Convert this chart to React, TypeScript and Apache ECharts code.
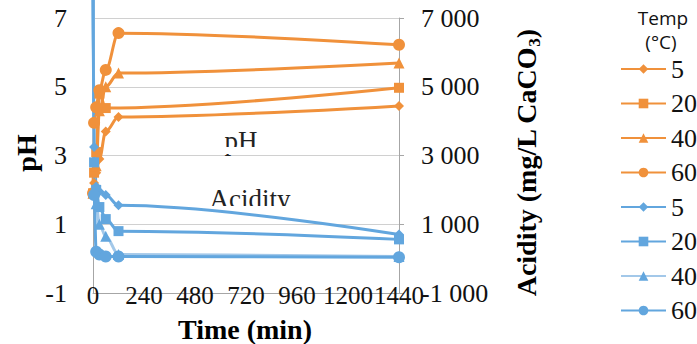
import React, { useEffect, useRef } from 'react';
import * as echarts from 'echarts';

const temps = ['5', '20', '40', '60'];
const xTicks = [0, 240, 480, 720, 960, 1200, 1440];

// pH (left axis) — [time (min), pH]
const ph5 = [[0, 1.9], [5, 2.2], [15, 2.5], [30, 2.9], [60, 3.7], [120, 4.12], [1440, 4.44]];
const ph20 = [[0, 1.9], [5, 2.5], [15, 3.1], [30, 4.8], [60, 4.38], [1440, 4.97]];
const ph40 = [[0, 1.9], [5, 2.0], [15, 2.7], [30, 4.3], [60, 5.0], [120, 5.4], [1440, 5.69]];
const ph60 = [[0, 1.9], [5, 3.95], [15, 4.4], [30, 4.9], [60, 5.49], [120, 6.56], [1440, 6.22]];

// Acidity (right axis) — [time (min), mg/L CaCO3]
const ac5 = [[0, 9000], [5, 3250], [15, 2100], [30, 1950], [60, 1850], [120, 1550], [1440, 700]];
const ac20 = [[0, 9000], [5, 2800], [15, 2000], [30, 1500], [60, 1150], [120, 800], [1440, 560]];
const ac40 = [[0, 9000], [5, 2000], [15, 1600], [30, 1000], [60, 650], [120, 120], [1440, 60]];
const ac60 = [[0, 9000], [5, 1850], [15, 200], [30, 120], [60, 60], [120, 60], [1440, 40]];

const phSeries = [ph5, ph20, ph40, ph60];
const acSeries = [ac5, ac20, ac40, ac60];
const symbols = ['diamond', 'rect', 'triangle', 'circle'];
const symbolSizes = [10, 10, 11, 12];

const ORANGE = '#F0913B';
const BLUE = '#62A6DE';
const LIGHT_BLUE = '#A3C8E9';
const SERIF = 'Liberation Serif';

const fmtThousands = (v: number) => {
  const s = Math.abs(v);
  const str = s >= 1000 ? Math.floor(s / 1000) + ' ' + String(s % 1000).padStart(3, '0') : String(s);
  return (v < 0 ? '-' : '') + str;
};

export default function App() {
  const ref = useRef<HTMLDivElement>(null);
  useEffect(() => {
    const chart = echarts.init(ref.current!, null, { renderer: 'svg' });
    const series: any[] = [];
    temps.forEach((t, i) => {
      series.push({
        type: 'line', name: 'pH ' + t, data: phSeries[i], yAxisIndex: 0,
        smooth: 0.35, smoothMonotone: 'x', symbol: symbols[i], symbolSize: symbolSizes[i],
        clip: false, lineStyle: { color: ORANGE, width: 3 }, itemStyle: { color: ORANGE },
        emphasis: { disabled: true },
      });
    });
    temps.forEach((t, i) => {
      series.push({
        type: 'line', name: 'Ac ' + t, data: acSeries[i], yAxisIndex: 1,
        smooth: 0.35, smoothMonotone: 'x', symbol: symbols[i], symbolSize: symbolSizes[i],
        clip: false, lineStyle: { color: i === 2 ? LIGHT_BLUE : BLUE, width: 3 }, itemStyle: { color: BLUE },
        emphasis: { disabled: true },
      });
    });
    const axisLabelBase = { fontFamily: SERIF, fontSize: 25, color: '#111' };
    const option: any = {
      animation: false,
      textStyle: { fontFamily: SERIF },
      grid: { left: 93, top: 18, width: 306, height: 275, containLabel: false },
      xAxis: {
        type: 'value', min: xTicks[0], max: xTicks[xTicks.length - 1], interval: 240,
        axisLine: { onZero: false, lineStyle: { color: '#A6A6A6', width: 1 } },
        axisTick: { show: false }, splitLine: { show: false },
        axisLabel: { ...axisLabelBase, margin: -10, showMinLabel: true, showMaxLabel: true, hideOverlap: false, formatter: (v: number) => String(v) },
      },
      yAxis: [
        {
          type: 'value', min: -1, max: 7, interval: 2, position: 'left',
          axisLine: { show: true, onZero: false, lineStyle: { color: '#A6A6A6' } },
          axisTick: { show: false },
          splitLine: { show: true, lineStyle: { color: '#D0D0D0', width: 1 } },
          axisLabel: { ...axisLabelBase, fontSize: 26, margin: 26, padding: [8, 0, 0, 0], formatter: (v: number) => String(v) },
        },
        {
          type: 'value', min: -1000, max: 7000, interval: 2000, position: 'right',
          axisLine: { show: true, onZero: false, lineStyle: { color: '#A6A6A6' } },
          axisTick: { show: true, length: 5, lineStyle: { color: '#A6A6A6' } },
          splitLine: { show: false },
          axisLabel: { ...axisLabelBase, fontSize: 26, margin: 22, padding: [8, 0, 0, 0], formatter: (v: number) => fmtThousands(v) },
        },
      ],
      legend: {
        orient: 'vertical', left: 620, top: 56, itemWidth: 45, itemHeight: 12, itemGap: 8.5,
        selectedMode: false, padding: 0,
        data: series.map((s) => s.name),
        formatter: (n: string) => '{t|' + n.split(' ')[1] + '}',
        textStyle: {
          fontFamily: SERIF, fontSize: 26, color: '#111', lineHeight: 26,
          rich: { t: { fontFamily: SERIF, fontSize: 26, color: '#111', lineHeight: 26 } },
        },
      },
      graphic: [
        { type: 'text', x: 663, y: 18, z: 5, style: { text: 'Temp', fontFamily: 'Open Sans', fontSize: 19, fill: '#111', align: 'center', verticalAlign: 'middle', textAlign: 'center', textVerticalAlign: 'middle' } },
        { type: 'text', x: 661, y: 42, z: 5, style: { text: '(°C)', fontFamily: 'Open Sans', fontSize: 19, fill: '#111', align: 'center', verticalAlign: 'middle', textAlign: 'center', textVerticalAlign: 'middle' } },
        { type: 'text', x: 26, y: 153, rotation: Math.PI / 2, z: 5, style: { text: 'pH', fontFamily: SERIF, fontWeight: 'bold', fontSize: 28, fill: '#000', align: 'center', verticalAlign: 'middle', textAlign: 'center', textVerticalAlign: 'middle' } },
        { type: 'text', x: 245, y: 329, z: 5, style: { text: 'Time (min)', fontFamily: SERIF, fontWeight: 'bold', fontSize: 28, fill: '#000', align: 'center', verticalAlign: 'middle', textAlign: 'center', textVerticalAlign: 'middle' } },
        {
          type: 'text', x: 526, y: 163, rotation: Math.PI / 2, z: 5,
          style: {
            text: 'Acidity (mg/L CaCO{sub|3})', fontFamily: SERIF, fontWeight: 'bold', fontSize: 28, fill: '#000',
            align: 'center', verticalAlign: 'middle', textAlign: 'center', textVerticalAlign: 'middle', lineHeight: 34,
            rich: { sub: { fontFamily: SERIF, fontWeight: 'bold', fontSize: 17, fill: '#000', verticalAlign: 'bottom', lineHeight: 34 } },
          },
        },
        { type: 'text', x: 241, y: 141, z: 1, style: { text: 'pH', fontFamily: SERIF, fontSize: 27, fill: '#222', align: 'center', verticalAlign: 'middle', textAlign: 'center', textVerticalAlign: 'middle' } },
        { type: 'text', x: 250, y: 199, z: 1, style: { text: 'Acidity', fontFamily: SERIF, fontSize: 27, fill: '#222', align: 'center', verticalAlign: 'middle', textAlign: 'center', textVerticalAlign: 'middle' } },
        { type: 'rect', z: 1, z2: 10, shape: { x: 220, y: 147, width: 44, height: 7 }, style: { fill: '#fff' } },
        { type: 'rect', z: 1, z2: 10, shape: { x: 205, y: 206, width: 92, height: 8 }, style: { fill: '#fff' } },
      ],
      series,
    };
    chart.setOption(option);
    return () => chart.dispose();
  }, []);
  return <div ref={ref} style={{ position: 'absolute', left: 0, top: 0, width: 697, height: 344 }} />;
}
